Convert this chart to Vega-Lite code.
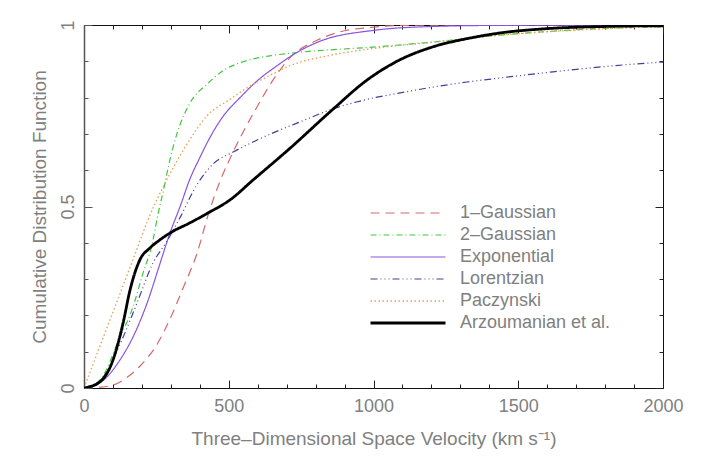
{
  "$schema": "https://vega.github.io/schema/vega-lite/v6.json",
  "width": 579,
  "height": 363,
  "autosize": {"type": "none"},
  "padding": {"left": 84, "top": 25, "right": 40, "bottom": 74},
  "background": "white",
  "config": {
    "font": "Liberation Sans",
    "view": {"stroke": "#111", "strokeWidth": 1},
    "axis": {
      "grid": false,
      "domain": false,
      "tickColor": "#222",
      "tickWidth": 1,
      "labelFont": "Liberation Sans",
      "labelFontSize": 18,
      "labelColor": "#808080",
      "titleFont": "Liberation Sans",
      "titleFontSize": 19,
      "titleFontWeight": "normal",
      "titleColor": "#808080",
      "labelFlush": false,
      "labelOverlap": false,
      "labelBound": false
    },
    "legend": {
      "orient": "none",
      "legendX": 315,
      "legendY": 179,
      "padding": 0,
      "title": null,
      "symbolType": "M-7.5,0H7.5",
      "symbolSize": 100,
      "labelOffset": 43,
      "labelFont": "Liberation Sans",
      "labelFontSize": 18,
      "labelColor": "#808080",
      "rowPadding": 4
    }
  },
  "data": {
    "values": [
      {"model": "1–Gaussian", "v": 0, "F": 0},
      {"model": "1–Gaussian", "v": 50, "F": 0.002},
      {"model": "1–Gaussian", "v": 100, "F": 0.008},
      {"model": "1–Gaussian", "v": 150, "F": 0.03},
      {"model": "1–Gaussian", "v": 193, "F": 0.06},
      {"model": "1–Gaussian", "v": 252, "F": 0.12},
      {"model": "1–Gaussian", "v": 297, "F": 0.19},
      {"model": "1–Gaussian", "v": 342, "F": 0.275},
      {"model": "1–Gaussian", "v": 390, "F": 0.37},
      {"model": "1–Gaussian", "v": 430, "F": 0.48},
      {"model": "1–Gaussian", "v": 470, "F": 0.57},
      {"model": "1–Gaussian", "v": 515, "F": 0.65},
      {"model": "1–Gaussian", "v": 598, "F": 0.775},
      {"model": "1–Gaussian", "v": 667, "F": 0.865},
      {"model": "1–Gaussian", "v": 712, "F": 0.91},
      {"model": "1–Gaussian", "v": 805, "F": 0.958},
      {"model": "1–Gaussian", "v": 884, "F": 0.981},
      {"model": "1–Gaussian", "v": 1000, "F": 0.994},
      {"model": "1–Gaussian", "v": 1100, "F": 0.999},
      {"model": "1–Gaussian", "v": 1300, "F": 1},
      {"model": "1–Gaussian", "v": 2000, "F": 1},

      {"model": "2–Gaussian", "v": 0, "F": 0},
      {"model": "2–Gaussian", "v": 55, "F": 0.022},
      {"model": "2–Gaussian", "v": 124, "F": 0.14},
      {"model": "2–Gaussian", "v": 169, "F": 0.223},
      {"model": "2–Gaussian", "v": 204, "F": 0.317},
      {"model": "2–Gaussian", "v": 235, "F": 0.395},
      {"model": "2–Gaussian", "v": 256, "F": 0.48},
      {"model": "2–Gaussian", "v": 280, "F": 0.565},
      {"model": "2–Gaussian", "v": 290, "F": 0.605},
      {"model": "2–Gaussian", "v": 321, "F": 0.7},
      {"model": "2–Gaussian", "v": 366, "F": 0.785},
      {"model": "2–Gaussian", "v": 425, "F": 0.837},
      {"model": "2–Gaussian", "v": 480, "F": 0.874},
      {"model": "2–Gaussian", "v": 563, "F": 0.902},
      {"model": "2–Gaussian", "v": 642, "F": 0.915},
      {"model": "2–Gaussian", "v": 746, "F": 0.925},
      {"model": "2–Gaussian", "v": 977, "F": 0.938},
      {"model": "2–Gaussian", "v": 1206, "F": 0.953},
      {"model": "2–Gaussian", "v": 1437, "F": 0.972},
      {"model": "2–Gaussian", "v": 1782, "F": 0.99},
      {"model": "2–Gaussian", "v": 2000, "F": 0.995},

      {"model": "Exponential", "v": 0, "F": 0},
      {"model": "Exponential", "v": 55, "F": 0.014},
      {"model": "Exponential", "v": 124, "F": 0.077},
      {"model": "Exponential", "v": 169, "F": 0.14},
      {"model": "Exponential", "v": 218, "F": 0.234},
      {"model": "Exponential", "v": 263, "F": 0.344},
      {"model": "Exponential", "v": 297, "F": 0.427},
      {"model": "Exponential", "v": 332, "F": 0.5},
      {"model": "Exponential", "v": 366, "F": 0.576},
      {"model": "Exponential", "v": 401, "F": 0.636},
      {"model": "Exponential", "v": 425, "F": 0.675},
      {"model": "Exponential", "v": 480, "F": 0.748},
      {"model": "Exponential", "v": 539, "F": 0.8},
      {"model": "Exponential", "v": 598, "F": 0.846},
      {"model": "Exponential", "v": 667, "F": 0.888},
      {"model": "Exponential", "v": 722, "F": 0.918},
      {"model": "Exponential", "v": 805, "F": 0.952},
      {"model": "Exponential", "v": 998, "F": 0.985},
      {"model": "Exponential", "v": 1206, "F": 0.996},
      {"model": "Exponential", "v": 1437, "F": 0.999},
      {"model": "Exponential", "v": 2000, "F": 1},

      {"model": "Lorentzian", "v": 0, "F": 0},
      {"model": "Lorentzian", "v": 55, "F": 0.02},
      {"model": "Lorentzian", "v": 135, "F": 0.14},
      {"model": "Lorentzian", "v": 183, "F": 0.234},
      {"model": "Lorentzian", "v": 238, "F": 0.344},
      {"model": "Lorentzian", "v": 287, "F": 0.405},
      {"model": "Lorentzian", "v": 332, "F": 0.47},
      {"model": "Lorentzian", "v": 390, "F": 0.56},
      {"model": "Lorentzian", "v": 446, "F": 0.617},
      {"model": "Lorentzian", "v": 515, "F": 0.65},
      {"model": "Lorentzian", "v": 598, "F": 0.683},
      {"model": "Lorentzian", "v": 677, "F": 0.711},
      {"model": "Lorentzian", "v": 746, "F": 0.733},
      {"model": "Lorentzian", "v": 860, "F": 0.769},
      {"model": "Lorentzian", "v": 977, "F": 0.795},
      {"model": "Lorentzian", "v": 1092, "F": 0.813},
      {"model": "Lorentzian", "v": 1206, "F": 0.829},
      {"model": "Lorentzian", "v": 1323, "F": 0.843},
      {"model": "Lorentzian", "v": 1437, "F": 0.854},
      {"model": "Lorentzian", "v": 1620, "F": 0.871},
      {"model": "Lorentzian", "v": 1910, "F": 0.893},
      {"model": "Lorentzian", "v": 2000, "F": 0.898},

      {"model": "Paczynski", "v": 0, "F": 0},
      {"model": "Paczynski", "v": 55, "F": 0.115},
      {"model": "Paczynski", "v": 110, "F": 0.23},
      {"model": "Paczynski", "v": 165, "F": 0.345},
      {"model": "Paczynski", "v": 221, "F": 0.463},
      {"model": "Paczynski", "v": 321, "F": 0.625},
      {"model": "Paczynski", "v": 366, "F": 0.685},
      {"model": "Paczynski", "v": 425, "F": 0.75},
      {"model": "Paczynski", "v": 504, "F": 0.795},
      {"model": "Paczynski", "v": 563, "F": 0.827},
      {"model": "Paczynski", "v": 632, "F": 0.857},
      {"model": "Paczynski", "v": 712, "F": 0.888},
      {"model": "Paczynski", "v": 860, "F": 0.918},
      {"model": "Paczynski", "v": 977, "F": 0.933},
      {"model": "Paczynski", "v": 1206, "F": 0.953},
      {"model": "Paczynski", "v": 1437, "F": 0.972},
      {"model": "Paczynski", "v": 1782, "F": 0.989},
      {"model": "Paczynski", "v": 2000, "F": 0.996},

      {"model": "Arzoumanian et al.", "v": 0, "F": 0},
      {"model": "Arzoumanian et al.", "v": 55, "F": 0.017},
      {"model": "Arzoumanian et al.", "v": 100, "F": 0.077},
      {"model": "Arzoumanian et al.", "v": 135, "F": 0.179},
      {"model": "Arzoumanian et al.", "v": 159, "F": 0.27},
      {"model": "Arzoumanian et al.", "v": 193, "F": 0.353},
      {"model": "Arzoumanian et al.", "v": 228, "F": 0.386},
      {"model": "Arzoumanian et al.", "v": 262, "F": 0.408},
      {"model": "Arzoumanian et al.", "v": 297, "F": 0.427},
      {"model": "Arzoumanian et al.", "v": 366, "F": 0.455},
      {"model": "Arzoumanian et al.", "v": 435, "F": 0.485},
      {"model": "Arzoumanian et al.", "v": 504, "F": 0.518},
      {"model": "Arzoumanian et al.", "v": 584, "F": 0.573},
      {"model": "Arzoumanian et al.", "v": 711, "F": 0.66},
      {"model": "Arzoumanian et al.", "v": 860, "F": 0.768},
      {"model": "Arzoumanian et al.", "v": 977, "F": 0.848},
      {"model": "Arzoumanian et al.", "v": 1091, "F": 0.904},
      {"model": "Arzoumanian et al.", "v": 1206, "F": 0.94},
      {"model": "Arzoumanian et al.", "v": 1333, "F": 0.964},
      {"model": "Arzoumanian et al.", "v": 1437, "F": 0.978},
      {"model": "Arzoumanian et al.", "v": 1600, "F": 0.99},
      {"model": "Arzoumanian et al.", "v": 1800, "F": 0.996},
      {"model": "Arzoumanian et al.", "v": 2000, "F": 0.998}
    ]
  },
  "encoding": {
    "x": {"field": "v", "type": "quantitative", "scale": {"domain": [0, 2000], "nice": false, "zero": false}},
    "y": {"field": "F", "type": "quantitative", "scale": {"domain": [0, 1], "nice": false, "zero": false}}
  },
  "layer": [
    {
      "mark": {"type": "line", "interpolate": "monotone", "clip": true},
      "encoding": {
        "x": {"field": "v", "type": "quantitative", "axis": {"orient": "bottom", "values": [0, 500, 1000, 1500, 2000], "format": "d", "tickSize": -8, "labelPadding": 17, "title": "Three–Dimensional Space Velocity (km s⁻¹)", "titlePadding": 14}},
        "y": {"field": "F", "type": "quantitative", "axis": {"orient": "left", "values": [0, 0.5, 1], "format": "~g", "tickSize": -8, "tickColor": "#555", "domain": true, "domainColor": "#555", "domainWidth": 1.5, "labelAngle": -90, "labelAlign": "center", "labelBaseline": "bottom", "labelPadding": 15, "title": "Cumulative Distribution Function", "titlePadding": 10}},
        "color": {"field": "model", "type": "nominal", "scale": {"domain": ["1–Gaussian", "2–Gaussian", "Exponential", "Lorentzian", "Paczynski", "Arzoumanian et al."], "range": ["#d46a6a", "#3fc83f", "#8855dd", "#404099", "#e6a25a", "#000000"]}},
        "strokeDash": {"field": "model", "type": "nominal", "scale": {"domain": ["1–Gaussian", "2–Gaussian", "Exponential", "Lorentzian", "Paczynski", "Arzoumanian et al."], "range": [[9, 6], [6, 3, 1, 3], [1, 0], [7, 3, 1, 3, 1, 3, 1, 3], [1.5, 2.5], [1, 0]]}},
        "strokeWidth": {"field": "model", "type": "nominal", "scale": {"type": "ordinal", "domain": ["1–Gaussian", "2–Gaussian", "Exponential", "Lorentzian", "Paczynski", "Arzoumanian et al."], "range": [1.2, 1.2, 1.2, 1.2, 1.4, 2.8]}}
      }
    },
    {
      "mark": {"type": "line", "opacity": 0},
      "encoding": {
        "x": {"field": "v", "type": "quantitative", "axis": {"orient": "bottom", "values": [0, 100, 200, 300, 400, 500, 600, 700, 800, 900, 1000, 1100, 1200, 1300, 1400, 1500, 1600, 1700, 1800, 1900, 2000], "tickSize": -4, "labels": false, "title": null}},
        "y": {"field": "F", "type": "quantitative", "axis": {"orient": "left", "values": [0, 0.1, 0.2, 0.3, 0.4, 0.5, 0.6, 0.7, 0.8, 0.9, 1], "tickSize": -4, "tickColor": "#555", "labels": false, "title": null}},
        "detail": {"field": "model", "type": "nominal"}
      }
    },
    {
      "mark": {"type": "line", "opacity": 0},
      "encoding": {
        "x": {"field": "v", "type": "quantitative", "axis": {"orient": "top", "values": [0, 500, 1000, 1500, 2000], "tickSize": -8, "labels": false, "title": null}},
        "y": {"field": "F", "type": "quantitative", "axis": {"orient": "right", "values": [0, 0.5, 1], "tickSize": -8, "labels": false, "title": null}},
        "detail": {"field": "model", "type": "nominal"}
      }
    },
    {
      "mark": {"type": "line", "opacity": 0},
      "encoding": {
        "x": {"field": "v", "type": "quantitative", "axis": {"orient": "top", "values": [0, 100, 200, 300, 400, 500, 600, 700, 800, 900, 1000, 1100, 1200, 1300, 1400, 1500, 1600, 1700, 1800, 1900, 2000], "tickSize": -4, "labels": false, "title": null}},
        "y": {"field": "F", "type": "quantitative", "axis": {"orient": "right", "values": [0, 0.1, 0.2, 0.3, 0.4, 0.5, 0.6, 0.7, 0.8, 0.9, 1], "tickSize": -4, "labels": false, "title": null}},
        "detail": {"field": "model", "type": "nominal"}
      }
    }
  ],
  "resolve": {"axis": {"x": "independent", "y": "independent"}}
}
